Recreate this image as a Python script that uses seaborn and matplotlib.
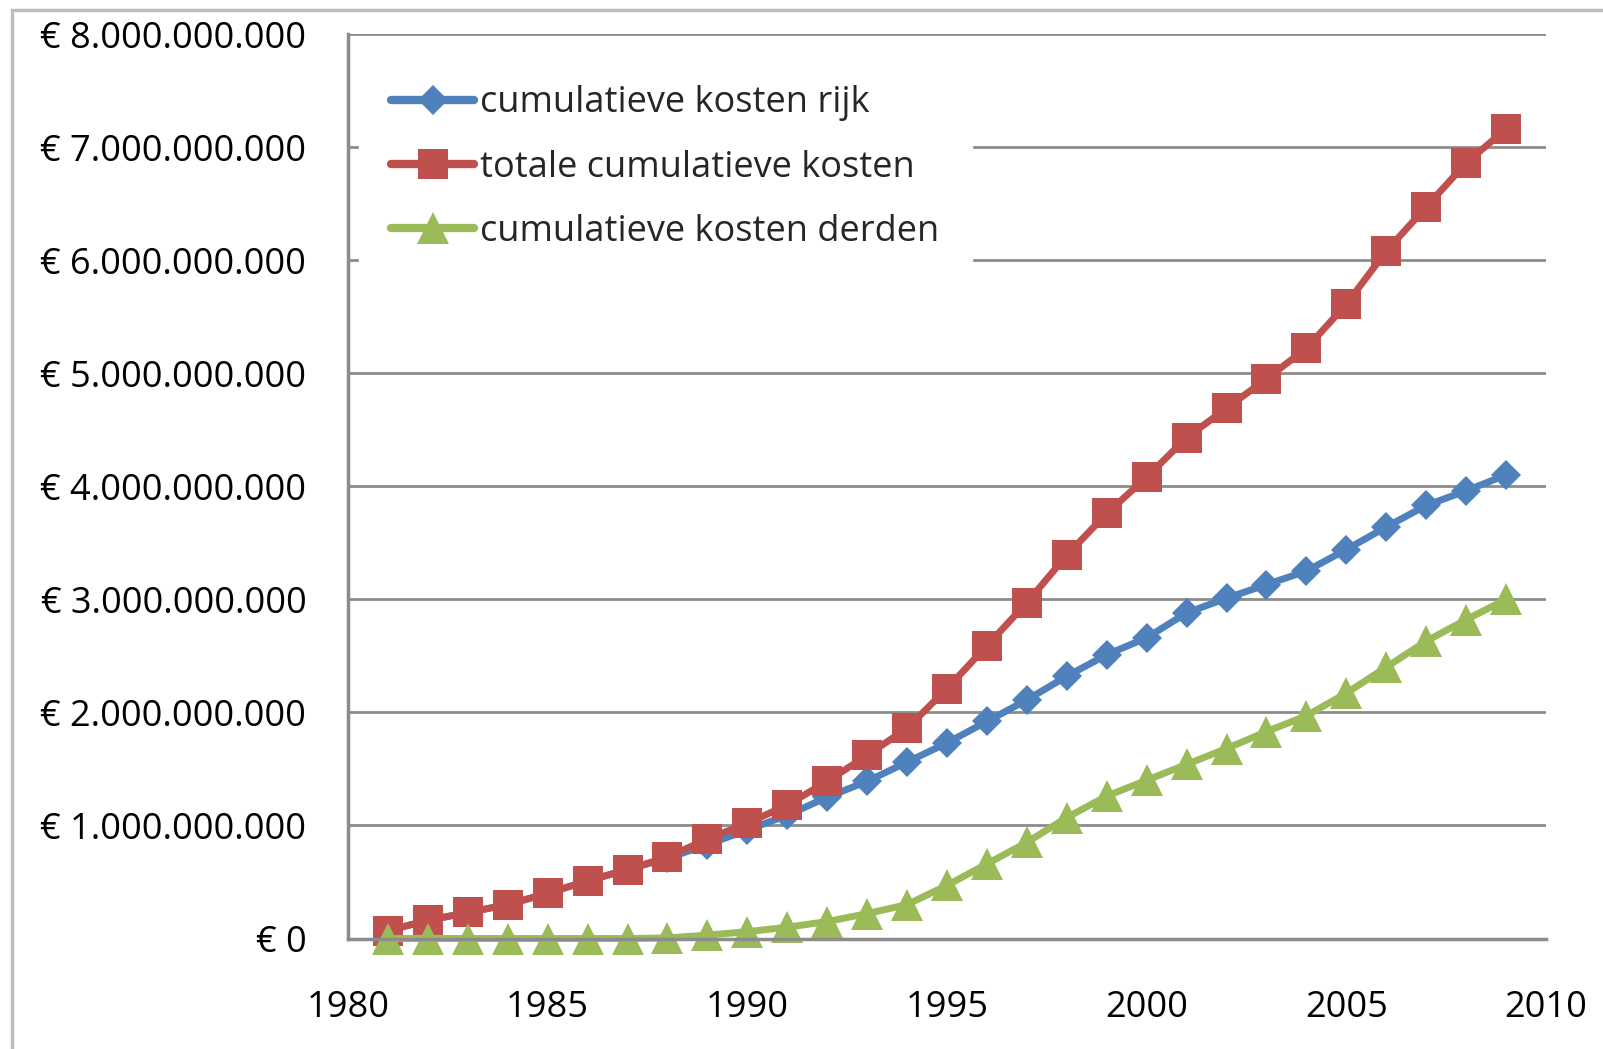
import matplotlib
matplotlib.use("Agg")
import matplotlib.pyplot as plt
import matplotlib.ticker as mticker
from matplotlib.patches import Rectangle
import seaborn as sns
import pandas as pd

years = list(range(1981, 2010))
kosten_rijk = [0.07, 0.16, 0.23, 0.30, 0.40, 0.51, 0.61, 0.71, 0.83, 0.96,
               1.09, 1.25, 1.39, 1.56, 1.73, 1.92, 2.11, 2.32, 2.51, 2.66,
               2.88, 3.01, 3.13, 3.25, 3.44, 3.64, 3.83, 3.96, 4.10]
totale_kosten = [0.07, 0.16, 0.23, 0.30, 0.40, 0.51, 0.61, 0.72, 0.88, 1.02,
                 1.18, 1.39, 1.62, 1.86, 2.21, 2.59, 2.97, 3.39, 3.76, 4.08,
                 4.43, 4.69, 4.95, 5.22, 5.61, 6.08, 6.47, 6.86, 7.16]
kosten_derden = [0.0, 0.0, 0.0, 0.0, 0.0, 0.0, 0.0, 0.005, 0.03, 0.06,
                 0.10, 0.15, 0.22, 0.30, 0.47, 0.66, 0.85, 1.07, 1.26, 1.40,
                 1.54, 1.68, 1.83, 1.97, 2.17, 2.40, 2.63, 2.82, 3.00]
series_names = ["cumulatieve kosten rijk", "totale cumulatieve kosten",
                "cumulatieve kosten derden"]
y_ticks = [i * 1e9 for i in range(9)]
x_ticks = [1980, 1985, 1990, 1995, 2000, 2005, 2010]

rows = []
for name, vals in zip(series_names, [kosten_rijk, totale_kosten, kosten_derden]):
    for yr, v in zip(years, vals):
        rows.append({"jaar": yr, "kosten": v * 1e9, "reeks": name})
df = pd.DataFrame(rows)

sns.set_style("white")
plt.rcParams["font.family"] = ["Open Sans", "DejaVu Sans"]

colors = {series_names[0]: "#4F81BD", series_names[1]: "#C0504D",
          series_names[2]: "#9BBB59"}
markers = {series_names[0]: "D", series_names[1]: "s", series_names[2]: "^"}
msizes = {series_names[0]: 15.5, series_names[1]: 22, series_names[2]: 23}

fig = plt.figure(figsize=(16.03, 10.49), dpi=100)
ax = fig.add_axes([348 / 1603, 1 - 938.5 / 1049, (1546 - 348) / 1603, (938.5 - 34) / 1049])

for name in series_names:
    sub = df[df["reeks"] == name]
    sns.lineplot(data=sub, x="jaar", y="kosten", ax=ax, color=colors[name],
                 marker=markers[name], markersize=msizes[name], linewidth=5,
                 markeredgewidth=0, label=name, clip_on=False)

ax.set_xlim(1980, 2010)
ax.set_ylim(0, 8e9)
ax.set_xticks(x_ticks)
ax.set_yticks(y_ticks)

def euro(v, pos):
    s = f"{int(round(v)):,}".replace(",", ".")
    return f"€ {s}"

ax.yaxis.set_major_formatter(mticker.FuncFormatter(euro))
ax.set_xlabel("")
ax.set_ylabel("")
ax.grid(axis="y", color="#8C8C8C", linewidth=2)
ax.grid(axis="x", visible=False)
ax.set_axisbelow(True)
for side in ["top", "right"]:
    ax.spines[side].set_visible(False)
for side in ["left", "bottom"]:
    ax.spines[side].set_color("#8C8C8C")
    ax.spines[side].set_linewidth(2.5)
ax.tick_params(axis="both", which="major", direction="out", length=11, width=2,
               color="#8C8C8C", labelsize=26, labelcolor="#000000")
ax.tick_params(axis="y", pad=19)
ax.tick_params(axis="x", pad=26)

leg = ax.legend(loc="upper left", bbox_to_anchor=(0.009, 0.979), frameon=True,
                fontsize=26, handlelength=2.3, handletextpad=0.17,
                labelspacing=0.78, borderpad=0.9, borderaxespad=0)
leg.get_frame().set_facecolor("white")
leg.get_frame().set_edgecolor("white")
leg.get_frame().set_alpha(1)
leg.get_frame().set_boxstyle("square", pad=0)
for h in leg.legend_handles:
    h.set_linewidth(6)

fig.patches.append(Rectangle((12 / 1603, -0.1), 1.2, 1 - 10 / 1049 + 0.1,
                             transform=fig.transFigure, fill=False,
                             edgecolor="#BEBEBE", linewidth=2.5))

fig.savefig("out.png", dpi=100, facecolor="white")
